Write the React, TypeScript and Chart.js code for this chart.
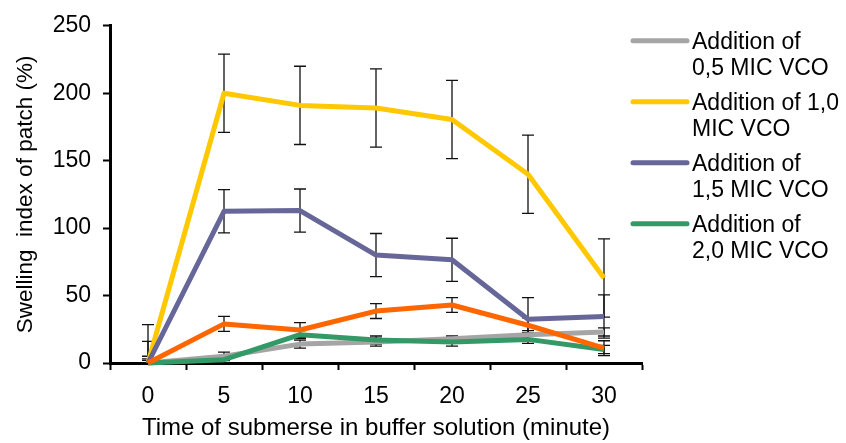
import React, { useEffect, useRef } from 'react';
import { Chart, registerables } from 'chart.js';

Chart.register(...registerables);

// ---------- data ----------
const categories = ['0', '5', '10', '15', '20', '25', '30'];

const mic05 = [0, 5, 14, 15.5, 18, 21, 23];
const mic10 = [0, 200, 191, 189, 180.5, 140, 63];
const mic15 = [0, 112.5, 113, 80, 76.5, 32.5, 34.5];
const mic20 = [0, 2.5, 21, 17, 15.5, 17.5, 10];
const control = [0, 29, 24.5, 38.5, 43, 28, 11];

const err05 = [3, 3, 3, 3, 2, 3, 3];
const err10 = [28.5, 29, 29, 29, 29, 29, 29];
const err15 = [16, 16, 16, 16, 16, 16, 16];
const err20 = [2, 2, 3, 3, 3, 3, 3];
const errControl = [5, 5.5, 5.5, 5.5, 5.5, 5.5, 5.5];

const legendLabels = [
  ['Addition of', '0,5 MIC VCO'],
  ['Addition of 1,0', 'MIC VCO'],
  ['Addition of', '1,5 MIC VCO'],
  ['Addition of', '2,0 MIC VCO'],
];

const yTicks = [0, 50, 100, 150, 200, 250];

const xTitle = 'Time of submerse in buffer solution (minute)';
const yTitle = 'Swelling  index of patch (%)';

// ---------- styles ----------
const FONT = "'Liberation Sans', Arial, sans-serif";
const FS = 23;
const colors = {
  gray: 'rgb(165,165,165)',
  yellow: 'rgb(255,200,0)',
  purple: 'rgb(102,102,153)',
  green: 'rgb(51,153,102)',
  orange: 'rgb(255,102,0)',
};

const errorBarPlugin = {
  id: 'errorBars',
  beforeDatasetsDraw(chart: any) {
    const ctx = chart.ctx;
    const yScale = chart.scales.y;
    ctx.save();
    ctx.strokeStyle = '#111';
    ctx.lineWidth = 1.3;
    chart.data.datasets.forEach((ds: any, i: number) => {
      const meta = chart.getDatasetMeta(i);
      if (!ds.errors) return;
      ds.data.forEach((v: number, j: number) => {
        const el = meta.data[j];
        if (!el) return;
        const x = el.x;
        const e = ds.errors[j];
        const low = v - e;
        const yt = yScale.getPixelForValue(v + e);
        const yb = yScale.getPixelForValue(Math.max(low, 0));
        ctx.beginPath();
        ctx.moveTo(x, yt);
        ctx.lineTo(x, yb);
        ctx.moveTo(x - 6, yt);
        ctx.lineTo(x + 6, yt);
        if (low >= 0) {
          ctx.moveTo(x - 6, yb);
          ctx.lineTo(x + 6, yb);
        }
        ctx.stroke();
      });
    });
    ctx.restore();
  },
};

const sideLegendPlugin = {
  id: 'sideLegend',
  afterDraw(chart: any) {
    const ctx = chart.ctx;
    const area = chart.chartArea;
    const items = chart.data.datasets.filter((d: any) => d.legendText);
    ctx.save();
    ctx.font = `${FS}px ${FONT}`;
    ctx.fillStyle = '#000';
    ctx.textBaseline = 'alphabetic';
    ctx.textAlign = 'left';
    items.forEach((ds: any, i: number) => {
      const base = area.top + 22.7 + i * 61;
      const lineY = base - 7.7;
      ctx.strokeStyle = ds.borderColor;
      ctx.lineWidth = 5;
      ctx.lineCap = 'round';
      ctx.beginPath();
      ctx.moveTo(area.right - 9, lineY);
      ctx.lineTo(area.right + 45, lineY);
      ctx.stroke();
      ds.legendText.forEach((t: string, k: number) => {
        ctx.fillText(t, area.right + 50, base + k * 26);
      });
    });
    ctx.restore();
  },
};

export default function App() {
  const ref = useRef<HTMLCanvasElement>(null);

  useEffect(() => {
    if (!ref.current) return;
    const mk = (data: number[], errors: number[], color: string, order: number, legendText?: string[]) => ({
      data,
      errors,
      legendText,
      borderColor: color,
      backgroundColor: color,
      borderWidth: 5,
      pointRadius: 0,
      tension: 0,
      borderJoinStyle: 'round',
      order,
      clip: false,
    });
    const chart = new Chart(ref.current, {
      type: 'line',
      data: {
        labels: categories,
        datasets: [
          mk(mic05, err05, colors.gray, 5, legendLabels[0]),
          mk(mic10, err10, colors.yellow, 4, legendLabels[1]),
          mk(mic15, err15, colors.purple, 3, legendLabels[2]),
          mk(mic20, err20, colors.green, 2, legendLabels[3]),
          mk(control, errControl, colors.orange, 1),
        ] as any,
      },
      options: {
        animation: false,
        responsive: true,
        maintainAspectRatio: false,
        layout: { padding: { top: 24, right: 204, left: 0, bottom: 0 } },
        plugins: { legend: { display: false }, tooltip: { enabled: false } },
        scales: {
          x: {
            type: 'category',
            offset: true,
            grid: {
              offset: true,
              drawOnChartArea: false,
              tickLength: 7,
              tickWidth: 2,
              tickColor: '#000',
              color: '#000',
            },
            border: { display: true, color: '#000', width: 3 },
            ticks: { color: '#000', font: { family: FONT, size: FS }, padding: 13, maxRotation: 0 },
            title: {
              display: true,
              text: xTitle,
              color: '#000',
              font: { family: FONT, size: 24 },
              padding: { top: 6, bottom: 0 },
            },
            afterFit: (s: any) => {
              s.height = 80;
            },
          },
          y: {
            min: 0,
            max: 250,
            afterBuildTicks: (s: any) => {
              s.ticks = yTicks.map((v) => ({ value: v }));
            },
            grid: {
              drawOnChartArea: false,
              tickLength: 7,
              tickWidth: 2,
              tickColor: '#000',
              color: '#000',
            },
            border: { display: true, color: '#000', width: 3 },
            ticks: { color: '#000', font: { family: FONT, size: FS }, padding: 12 },
            title: {
              display: true,
              text: yTitle,
              color: '#000',
              font: { family: FONT, size: 22.5 },
              padding: { top: 12, bottom: 0 },
            },
            afterFit: (s: any) => {
              s.width = 110;
            },
          },
        },
      } as any,
      plugins: [errorBarPlugin, sideLegendPlugin],
    });
    return () => chart.destroy();
  }, []);

  return (
    <div style={{ position: 'fixed', left: 0, top: 0, width: 846, height: 443, background: '#fff' }}>
      <canvas ref={ref} />
    </div>
  );
}
